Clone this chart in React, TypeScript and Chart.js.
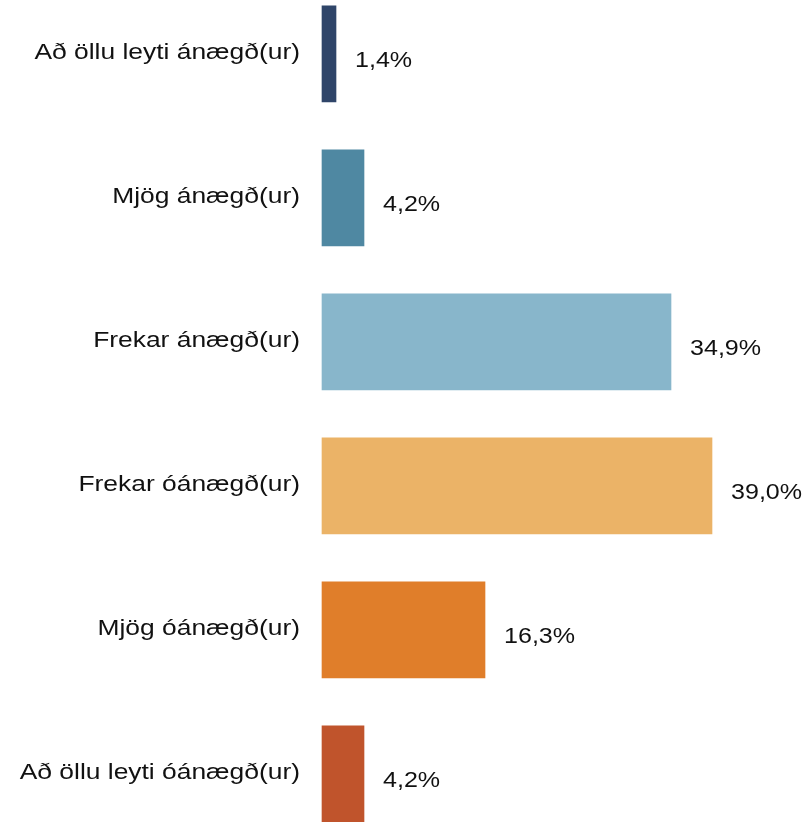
import React, { useEffect, useRef } from "react";
import { Chart, registerables } from "chart.js";

Chart.register(...registerables);

const categories = [
  "Að öllu leyti ánægð(ur)",
  "Mjög ánægð(ur)",
  "Frekar ánægð(ur)",
  "Frekar óánægð(ur)",
  "Mjög óánægð(ur)",
  "Að öllu leyti óánægð(ur)",
];
const values = [1.4, 4.2, 34.9, 39.0, 16.3, 4.2];
const colors = ["#2F4569", "#4F88A2", "#88B6CB", "#EBB367", "#E07E2A", "#C0542C"];

const FONT = '22px "Liberation Sans", Arial, sans-serif';
const LABEL_STRETCH = 1.2;
const VALUE_STRETCH = 1.14;

const labelPlugin = {
  id: "customLabels",
  afterDraw(chart: any) {
    const ctx = chart.ctx;
    const y = chart.scales.y;
    const x = chart.scales.x;
    const area = chart.chartArea;
    ctx.save();
    ctx.font = FONT;
    ctx.fillStyle = "#111111";
    ctx.textBaseline = "alphabetic";
    categories.forEach((cat, i) => {
      const py = y.getPixelForValue(i);
      ctx.save();
      ctx.translate(area.left - 22, py + 5);
      ctx.scale(LABEL_STRETCH, 1);
      ctx.textAlign = "right";
      ctx.fillText(cat, 0, 0);
      ctx.restore();
      const px = x.getPixelForValue(values[i]);
      ctx.save();
      ctx.translate(px + 19, py + 13);
      ctx.scale(VALUE_STRETCH, 1);
      ctx.textAlign = "left";
      ctx.fillText(values[i].toFixed(1).replace(".", ",") + "%", 0, 0);
      ctx.restore();
    });
    ctx.restore();
  },
};

export default function App() {
  const ref = useRef<HTMLCanvasElement | null>(null);
  useEffect(() => {
    if (!ref.current) return;
    const chart = new Chart(ref.current, {
      type: "bar",
      data: {
        labels: categories,
        datasets: [
          {
            data: values,
            backgroundColor: colors,
            borderWidth: 0,
            barThickness: 96,
            clip: false as any,
          },
        ],
      },
      options: {
        indexAxis: "y",
        responsive: false,
        animation: false,
        layout: { padding: { left: 322, right: 6, top: 53.8, bottom: 48.2 } },
        plugins: {
          legend: { display: false },
          tooltip: { enabled: false },
        },
        scales: {
          x: { display: false, min: 0, max: 48 },
          y: { display: false, offset: false },
        },
      },
      plugins: [labelPlugin],
    });
    return () => chart.destroy();
  }, []);
  return (
    <div style={{ position: "absolute", left: 0, top: 0, width: 808, height: 822, background: "#fff" }}>
      <canvas ref={ref} width={808} height={822} style={{ display: "block" }} />
    </div>
  );
}
